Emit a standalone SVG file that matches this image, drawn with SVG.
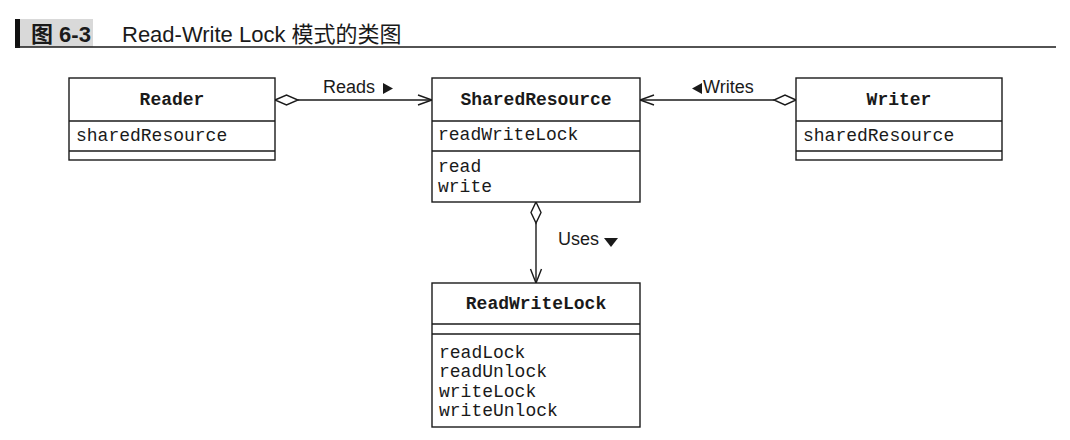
<svg xmlns="http://www.w3.org/2000/svg" width="1070" height="440" viewBox="0 0 1070 440">
<style>
.box{fill:#fff;stroke:#1a1a1a;stroke-width:1.4}
.div{stroke:#1a1a1a;stroke-width:1.4}
.cls{font-family:"Liberation Mono","DejaVu Sans Mono",monospace;font-size:18px;font-weight:bold;fill:#1a1a1a;text-anchor:middle}
.mem{font-family:"Liberation Mono","DejaVu Sans Mono",monospace;font-size:18px;fill:#1a1a1a}
.lbl{font-family:"Liberation Sans",Arial,sans-serif;font-size:18px;fill:#1a1a1a}
.ln{fill:none;stroke:#1a1a1a;stroke-width:1.4}
.dia{fill:#fff;stroke:#1a1a1a;stroke-width:1.4}
.tri{fill:#1a1a1a}
</style>
<rect width="1070" height="440" fill="#fff"/>
<g id="header">
<rect x="20" y="19" width="73" height="28" fill="#d9d9d9"/>
<rect x="15" y="19" width="5" height="29" fill="#111"/>
<line x1="15" y1="47" x2="1056" y2="47" stroke="#1a1a1a" stroke-width="1.6"/>
<text x="31" y="42" font-family="'Liberation Sans','Noto Sans CJK SC',sans-serif" font-size="22" font-weight="bold" fill="#1a1a1a">图 6-3</text>
<text x="122" y="42" font-family="'Liberation Sans','Noto Sans CJK SC',sans-serif" font-size="22" fill="#1a1a1a">Read-Write Lock 模式的类图</text>
</g>
<g id="connectors">
<line class="ln" x1="298" y1="100" x2="432" y2="100"/>
<polygon class="dia" points="275,100 286.5,95 298,100 286.5,105"/>
<polyline class="ln" points="418,95 432,100 418,105"/>
<polygon class="tri" points="383,83 393,88.5 383,94"/>
<text class="lbl" x="323" y="93">Reads</text>
<line class="ln" x1="640" y1="100" x2="774" y2="100"/>
<polygon class="dia" points="796,100 785,95 774,100 785,105"/>
<polyline class="ln" points="654,95 640,100 654,105"/>
<polygon class="tri" points="702,83 692,88.5 702,94"/>
<text class="lbl" x="703" y="93">Writes</text>
<line class="ln" x1="536" y1="223" x2="536" y2="283"/>
<polygon class="dia" points="536,202 541,212.5 536,223 531,212.5"/>
<polyline class="ln" points="530.5,269 536,283 541.5,269"/>
<text class="lbl" x="558" y="245">Uses</text>
<polygon class="tri" points="604,238 618,238 611,247"/>
</g>
<g id="reader">
<rect class="box" x="69" y="78" width="206" height="82"/>
<line class="div" x1="69" y1="121" x2="275" y2="121"/>
<line class="div" x1="69" y1="151" x2="275" y2="151"/>
<text class="cls" x="172" y="105">Reader</text>
<text class="mem" x="76" y="141">sharedResource</text>
</g>
<g id="sharedResource">
<rect class="box" x="432" y="78" width="208" height="124"/>
<line class="div" x1="432" y1="121" x2="640" y2="121"/>
<line class="div" x1="432" y1="151" x2="640" y2="151"/>
<text class="cls" x="536" y="105">SharedResource</text>
<text class="mem" x="438" y="140">readWriteLock</text>
<text class="mem" x="438" y="172">read</text>
<text class="mem" x="438" y="192">write</text>
</g>
<g id="writer">
<rect class="box" x="796" y="78" width="206" height="82"/>
<line class="div" x1="796" y1="121" x2="1002" y2="121"/>
<line class="div" x1="796" y1="151" x2="1002" y2="151"/>
<text class="cls" x="899" y="105">Writer</text>
<text class="mem" x="803" y="141">sharedResource</text>
</g>
<g id="readWriteLock">
<rect class="box" x="432" y="283" width="208" height="144"/>
<line class="div" x1="432" y1="324" x2="640" y2="324"/>
<line class="div" x1="432" y1="334" x2="640" y2="334"/>
<text class="cls" x="536" y="309">ReadWriteLock</text>
<text class="mem" x="439" y="358">readLock</text>
<text class="mem" x="439" y="377">readUnlock</text>
<text class="mem" x="439" y="397">writeLock</text>
<text class="mem" x="439" y="416">writeUnlock</text>
</g>
</svg>
